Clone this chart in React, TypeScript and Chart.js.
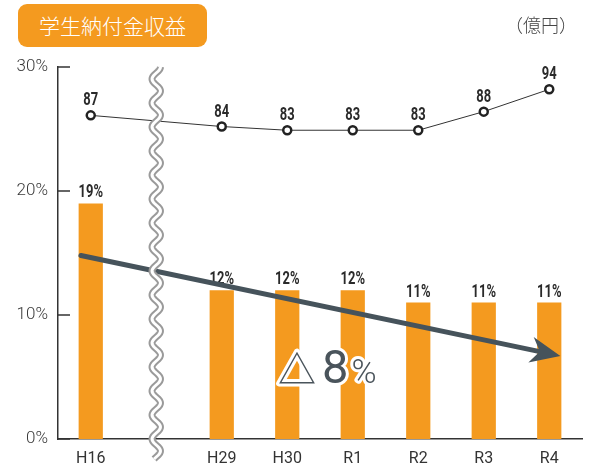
import React, { useEffect, useRef } from 'react';
import { Chart, registerables } from 'chart.js';

Chart.register(...registerables);

const categories = ['H16', '', 'H29', 'H30', 'R1', 'R2', 'R3', 'R4'];
const ratioValues: (number | null)[] = [19, null, 12, 12, 12, 11, 11, 11];
const revenueValues: (number | null)[] = [87, null, 84, 83, 83, 83, 88, 94];
const yTicks = [0, 10, 20, 30];
const titleText = '学生納付金収益';
const unitText = '（億円）';
const trendParts = ['△', '8', '%'];
const breakIndex = 1;
const arrowFrom = { index: -0.15, value: 14.8 };
const arrowTo = { index: 7.17, value: 6.7 };
const trendAnchor = { index: 2.86, value: 4.5 };

const ORANGE = '#F49A1F';
const DARK = '#333333';
const SLATE = '#46535B';
const AXIS_FONT = 'Roboto, "DejaVu Sans", sans-serif';

const drawNarrow = (ctx: any, text: string, px: number, py: number) => {
  ctx.save();
  ctx.translate(px, py);
  ctx.scale(0.72, 1);
  ctx.fillText(text, 0, 0);
  ctx.restore();
};

const overlayPlugin = {
  id: 'overlay',
  afterDatasetsDraw(chart: any) {
    const { ctx, chartArea, scales } = chart;
    const x = scales.x;
    const y = scales.y;
    const y2 = scales.y2;
    ctx.save();

    // inward y ticks
    ctx.strokeStyle = DARK;
    ctx.lineWidth = 1.5;
    yTicks.forEach((t) => {
      const py = y.getPixelForValue(t);
      ctx.beginPath();
      ctx.moveTo(chartArea.left, py);
      ctx.lineTo(chartArea.left + 12, py);
      ctx.stroke();
    });

    // value labels
    ctx.fillStyle = '#2a2a2a';
    ctx.textAlign = 'center';
    ctx.textBaseline = 'alphabetic';
    ctx.font = `bold 18px ${AXIS_FONT}`;
    ratioValues.forEach((v, i) => {
      if (v == null) return;
      drawNarrow(ctx, `${v}%`, x.getPixelForValue(i), y.getPixelForValue(v) - 6);
    });
    revenueValues.forEach((v, i) => {
      if (v == null) return;
      drawNarrow(ctx, `${v}`, x.getPixelForValue(i), y2.getPixelForValue(v) - 10);
    });

    // trend arrow
    const x0 = x.getPixelForValue(arrowFrom.index);
    const y0 = y.getPixelForValue(arrowFrom.value);
    const x1 = x.getPixelForValue(arrowTo.index);
    const y1 = y.getPixelForValue(arrowTo.value);
    const ang = Math.atan2(y1 - y0, x1 - x0);
    const dx = Math.cos(ang), dy = Math.sin(ang);
    const headLen = 30, headW = 13, notch = 9;
    ctx.strokeStyle = SLATE;
    ctx.fillStyle = SLATE;
    ctx.lineWidth = 5;
    ctx.lineCap = 'round';
    ctx.beginPath();
    ctx.moveTo(x0, y0);
    ctx.lineTo(x1 - dx * (headLen - notch), y1 - dy * (headLen - notch));
    ctx.stroke();
    ctx.beginPath();
    ctx.moveTo(x1, y1);
    ctx.lineTo(x1 - dx * headLen - dy * headW, y1 - dy * headLen + dx * headW);
    ctx.lineTo(x1 - dx * (headLen - notch), y1 - dy * (headLen - notch));
    ctx.lineTo(x1 - dx * headLen + dy * headW, y1 - dy * headLen - dx * headW);
    ctx.closePath();
    ctx.fill();

    // wavy break
    const wx = x.getPixelForValue(breakIndex);
    const top = chartArea.top;
    const bottom = chartArea.bottom + 20;
    const amp = 4.2, period = 24;
    const wave = () => {
      ctx.beginPath();
      for (let py = top; py <= bottom; py += 0.5) {
        const px = wx + amp * Math.sin(((py - top) / period) * 2 * Math.PI + Math.PI / 2);
        if (py === top) ctx.moveTo(px, py);
        else ctx.lineTo(px, py);
      }
    };
    ctx.lineCap = 'butt';
    wave();
    ctx.strokeStyle = '#9a9a9a';
    ctx.lineWidth = 7;
    ctx.stroke();
    wave();
    ctx.strokeStyle = '#ffffff';
    ctx.lineWidth = 3;
    ctx.stroke();

    // △8%
    let tx = x.getPixelForValue(trendAnchor.index);
    const ty = y.getPixelForValue(trendAnchor.value);
    const fonts = [
      `400 38px "Noto Sans CJK JP", sans-serif`,
      `400 47px ${AXIS_FONT}`,
      `300 34px ${AXIS_FONT}`,
    ];
    const gaps = [6, 3, 0];
    ctx.textAlign = 'left';
    ctx.lineJoin = 'round';
    trendParts.forEach((p, i) => {
      ctx.font = fonts[i];
      ctx.strokeStyle = '#ffffff';
      ctx.lineWidth = 6;
      ctx.strokeText(p, tx, ty);
      ctx.fillStyle = '#4A545B';
      ctx.fillText(p, tx, ty);
      tx += ctx.measureText(p).width + gaps[i];
    });

    ctx.restore();
  },
};

export default function App() {
  const canvasRef = useRef<HTMLCanvasElement | null>(null);

  useEffect(() => {
    document.body.style.margin = '0';
    const canvas = canvasRef.current;
    if (!canvas) return;
    const chart = new Chart(canvas, {
      type: 'bar',
      data: {
        labels: categories,
        datasets: [
          {
            type: 'line',
            data: revenueValues,
            yAxisID: 'y2',
            borderColor: DARK,
            borderWidth: 1,
            pointRadius: 4,
            pointBorderWidth: 2.5,
            pointBackgroundColor: '#ffffff',
            pointBorderColor: '#222222',
            spanGaps: true,
            order: 0,
          } as any,
          {
            type: 'bar',
            data: ratioValues,
            yAxisID: 'y',
            backgroundColor: ORANGE,
            categoryPercentage: 1,
            barPercentage: 0.37,
            order: 1,
          },
        ],
      },
      options: {
        responsive: false,
        animation: false,
        layout: { padding: { top: 67, right: 10, left: 0, bottom: 0 } },
        plugins: {
          legend: { display: false },
          tooltip: { enabled: false },
        },
        scales: {
          x: {
            grid: { display: false, drawTicks: false },
            border: { display: true, color: DARK, width: 1.5 },
            ticks: {
              color: DARK,
              padding: 10,
              maxRotation: 0,
              autoSkip: false,
              font: { family: AXIS_FONT, size: 16 },
            },
            afterFit: (s: any) => {
              s.height = 32;
            },
          },
          y: {
            min: 0,
            max: 30,
            grid: { display: false, drawTicks: false },
            border: { display: true, color: DARK, width: 1.5 },
            ticks: {
              stepSize: 10,
              color: '#3a3a3a',
              padding: 10,
              font: { family: AXIS_FONT, size: 17, weight: '300' },
              callback: (v: any) => `${v}%`,
            },
            afterFit: (s: any) => {
              s.width = 58;
            },
          },
          y2: { display: false, min: 0, max: 100 },
        },
      } as any,
      plugins: [overlayPlugin],
    });
    return () => chart.destroy();
  }, []);

  return (
    <div style={{ position: 'relative', width: 592, height: 471, background: '#fff' }}>
      <canvas ref={canvasRef} width={592} height={471} style={{ display: 'block' }} />
      <div
        style={{
          position: 'absolute',
          left: 18,
          top: 4,
          width: 189,
          height: 43,
          background: ORANGE,
          borderRadius: 9,
          color: '#fff',
          fontFamily: '"Noto Sans CJK JP", sans-serif',
          fontWeight: 300,
          fontSize: 21,
          lineHeight: '43px',
          textAlign: 'center',
        }}
      >
        {titleText}
      </div>
      <div
        style={{
          position: 'absolute',
          right: 24,
          top: 12,
          color: '#444',
          fontFamily: '"Noto Sans CJK JP", sans-serif',
          fontWeight: 300,
          fontSize: 18,
          lineHeight: '24px',
          fontFeatureSettings: '"halt" 1',
        }}
      >
        {unitText}
      </div>
    </div>
  );
}
